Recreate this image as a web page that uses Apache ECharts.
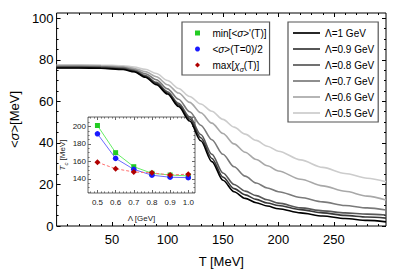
<!DOCTYPE html>
<html><head><meta charset="utf-8">
<script src="https://cdn.jsdelivr.net/npm/echarts@6/dist/echarts.min.js"></script>
<style>html,body{margin:0;padding:0;background:#fff}#c{width:395px;height:279px}</style>
</head><body><div id="c"></div>
<script>
const FONT = '"Liberation Sans", Arial, Helvetica, sans-serif';

// ---- main plot data: <sigma>(T) for several cutoffs Lambda ----
const T = [0, 20, 40, 60, 70, 80, 90, 100, 110, 120, 130, 140, 150, 160, 170, 180, 190, 200, 220, 240, 260, 280, 297];
const sigL10 = [76.0, 76.0, 75.9, 75.3, 74.2, 71.6, 68.0, 63.5, 57.5, 50.5, 41.0, 31.0, 22.0, 16.5, 13.3, 11.2, 9.6, 8.3, 6.3, 4.8, 3.6, 2.7, 2.0];
const sigL09 = [76.2, 76.2, 76.1, 75.5, 74.4, 71.9, 68.5, 64.0, 58.2, 51.5, 42.5, 32.5, 23.5, 18.0, 15.0, 12.8, 11.1, 9.9, 7.9, 6.3, 5.1, 4.3, 3.8];
const sigL08 = [76.5, 76.5, 76.4, 75.8, 74.7, 72.4, 69.1, 64.6, 59.0, 52.5, 44.0, 34.5, 25.5, 20.0, 16.8, 14.6, 12.6, 11.0, 8.7, 7.3, 6.3, 5.7, 5.3];
const sigL07 = [76.8, 76.8, 76.7, 76.2, 75.2, 73.3, 70.4, 66.0, 61.0, 55.0, 48.5, 41.5, 34.5, 28.5, 24.0, 20.7, 18.3, 16.5, 13.7, 11.6, 9.9, 8.7, 7.7];
const sigL06 = [77.2, 77.2, 77.1, 76.6, 75.8, 74.3, 71.8, 68.0, 64.0, 59.5, 54.5, 49.5, 44.5, 39.5, 35.5, 32.0, 29.0, 26.5, 22.5, 19.3, 16.7, 14.4, 12.5];
const sigL05 = [77.6, 77.6, 77.5, 77.1, 76.5, 75.4, 73.4, 70.0, 66.2, 62.3, 58.7, 55.2, 51.3, 47.6, 44.2, 41.2, 38.4, 36.0, 31.8, 28.2, 25.3, 23.0, 21.3];
const mainNames = ['Λ=1 GeV', 'Λ=0.9 GeV', 'Λ=0.8 GeV', 'Λ=0.7 GeV', 'Λ=0.6 GeV', 'Λ=0.5 GeV'];

// ---- inset data: Tc vs Lambda ----
const lam = [0.5, 0.6, 0.7, 0.8, 0.9, 1.0];
const tcMinDeriv = [201, 170, 154, 146.5, 144.5, 143.5];
const tcHalf = [191.5, 163.5, 151, 144.3, 142, 141.5];
const tcMaxChi = [159, 151.7, 148, 147, 144.5, 145.5];

// ---- tick labels ----
const xMajor = [50, 100, 150, 200, 250];
const yMajor = [0, 20, 40, 60, 80, 100];
const insXMajor = [0.5, 0.6, 0.7, 0.8, 0.9, 1.0];
const insYMajor = [140, 160, 180, 200];

function minors(from, to, step, majors) {
  const out = [];
  for (let v = from; v <= to + 1e-9; v += step) {
    const r = Math.round(v * 1000) / 1000;
    if (!majors.some(m => Math.abs(m - r) < 1e-6)) out.push(r);
  }
  return out;
}
const xMinor = minors(10, 290, 10, xMajor);
const yMinor = minors(5, 100, 5, yMajor);
const insXMinor = minors(0.46, 1.02, 0.02, insXMajor);
const insYMinor = minors(125, 210, 5, insYMajor);

function ax(o) {
  return Object.assign({
    type: 'value',
    axisLine: { show: false, onZero: false },
    splitLine: { show: false },
    axisLabel: { show: false },
    axisTick: { show: false }
  }, o);
}
function ticks(vals, len, color) {
  return { show: true, inside: true, length: len, customValues: vals, lineStyle: { color: color, width: 1 } };
}

const MX = { min: 0, max: 297 };
const MY = { min: 0, max: 102.5 };
const IX = { min: 0.448, max: 1.037 };
const IY = { min: 124, max: 210.7 };
const IC = '#666';

const xAxes = [
  ax(Object.assign({ gridIndex: 0, position: 'bottom', axisTick: ticks(xMajor, 4, '#000'),
    axisLabel: { show: true, customValues: xMajor, margin: 7, fontSize: 13, color: '#000', fontFamily: FONT },
    name: 'T [MeV]', nameLocation: 'middle', nameGap: 29,
    nameTextStyle: { fontSize: 13, color: '#000', fontFamily: FONT } }, MX)),
  ax(Object.assign({ gridIndex: 0, position: 'bottom', axisTick: ticks(xMinor, 2, '#000') }, MX)),
  ax(Object.assign({ gridIndex: 0, position: 'top', axisTick: ticks(xMajor, 4, '#000') }, MX)),
  ax(Object.assign({ gridIndex: 0, position: 'top', axisTick: ticks(xMinor, 2, '#000') }, MX)),
  ax(Object.assign({ gridIndex: 1, position: 'bottom', axisTick: ticks(insXMajor, 3, IC),
    axisLabel: { show: true, customValues: insXMajor, margin: 5, fontSize: 8, color: '#222', fontFamily: FONT,
      formatter: v => v.toFixed(1) },
    name: 'Λ [GeV]', nameLocation: 'middle', nameGap: 21,
    nameTextStyle: { fontSize: 8, color: '#222', fontFamily: FONT } }, IX)),
  ax(Object.assign({ gridIndex: 1, position: 'bottom', axisTick: ticks(insXMinor, 1.5, IC) }, IX)),
  ax(Object.assign({ gridIndex: 1, position: 'top', axisTick: ticks(insXMajor, 3, IC) }, IX)),
  ax(Object.assign({ gridIndex: 1, position: 'top', axisTick: ticks(insXMinor, 1.5, IC) }, IX))
];

const yAxes = [
  ax(Object.assign({ gridIndex: 0, position: 'left', axisTick: ticks(yMajor, 4, '#000'),
    axisLabel: { show: true, customValues: yMajor, margin: 3, fontSize: 13, color: '#000', fontFamily: FONT },
    name: '{n|<}{i|σ}{n|>[MeV]}', nameLocation: 'middle', nameGap: 27,
    nameTextStyle: { fontSize: 13, color: '#000', fontFamily: FONT,
      rich: { n: { fontSize: 13, fontFamily: FONT, color: '#000' },
              i: { fontSize: 13, fontFamily: FONT, color: '#000', fontStyle: 'italic' } } } }, MY)),
  ax(Object.assign({ gridIndex: 0, position: 'left', axisTick: ticks(yMinor, 2, '#000') }, MY)),
  ax(Object.assign({ gridIndex: 0, position: 'right', axisTick: ticks(yMajor, 4, '#000') }, MY)),
  ax(Object.assign({ gridIndex: 0, position: 'right', axisTick: ticks(yMinor, 2, '#000') }, MY)),
  ax(Object.assign({ gridIndex: 1, position: 'left', axisTick: ticks(insYMajor, 3, IC),
    axisLabel: { show: true, customValues: insYMajor, margin: 2, fontSize: 8, color: '#222', fontFamily: FONT },
    name: '{i|T}{s|c}{n| [MeV]}', nameLocation: 'middle', nameGap: 14,
    nameTextStyle: { fontSize: 8, color: '#222', fontFamily: FONT,
      rich: { n: { fontSize: 8, fontFamily: FONT, color: '#222', lineHeight: 12 },
              i: { fontSize: 8, fontFamily: FONT, color: '#222', fontStyle: 'italic', lineHeight: 12 },
              s: { fontSize: 6, fontFamily: FONT, color: '#222', fontStyle: 'italic', lineHeight: 9, verticalAlign: 'bottom' } } } }, IY)),
  ax(Object.assign({ gridIndex: 1, position: 'left', axisTick: ticks(insYMinor, 1.5, IC) }, IY)),
  ax(Object.assign({ gridIndex: 1, position: 'right', axisTick: ticks(insYMajor, 3, IC) }, IY)),
  ax(Object.assign({ gridIndex: 1, position: 'right', axisTick: ticks(insYMinor, 1.5, IC) }, IY))
];

const mainData = [sigL10, sigL09, sigL08, sigL07, sigL06, sigL05];
const mainColors = ['#000000', '#383838', '#585858', '#7a7a7a', '#a8a8a8', '#cccccc'];
const series = [];
// draw lightest first so darker lines sit on top
for (let k = mainData.length - 1; k >= 0; k--) {
  series.push({
    name: mainNames[k], type: 'line', xAxisIndex: 0, yAxisIndex: 0,
    data: T.map((t, i) => [t, mainData[k][i]]),
    symbol: 'none', showSymbol: false, smooth: 0.3, smoothMonotone: 'x',
    lineStyle: { color: mainColors[k], width: 1.6 }, itemStyle: { color: mainColors[k] },
    silent: true, z: 2
  });
}
series.push({
  name: 'min', type: 'line', xAxisIndex: 4, yAxisIndex: 4,
  data: lam.map((l, i) => [l, tcMinDeriv[i]]),
  symbol: 'rect', symbolSize: 5,
  lineStyle: { color: '#66ee66', width: 1 }, itemStyle: { color: '#22cc22' }, z: 5
});
series.push({
  name: 'half', type: 'line', xAxisIndex: 4, yAxisIndex: 4,
  data: lam.map((l, i) => [l, tcHalf[i]]),
  symbol: 'circle', symbolSize: 5.5,
  lineStyle: { color: '#6a6aff', width: 1 }, itemStyle: { color: '#1a1aff' }, z: 5
});
series.push({
  name: 'max', type: 'line', xAxisIndex: 4, yAxisIndex: 4,
  data: lam.map((l, i) => [l, tcMaxChi[i]]),
  symbol: 'diamond', symbolSize: 6,
  lineStyle: { color: '#ff7070', width: 1, type: [3, 2] }, itemStyle: { color: '#b00000' }, z: 6
});

const legendRich = {
  n: { fontSize: 10, fontFamily: FONT, color: '#000', lineHeight: 16 },
  i: { fontSize: 10, fontFamily: FONT, color: '#000', fontStyle: 'italic', lineHeight: 16 },
  s: { fontSize: 7, fontFamily: FONT, color: '#000', fontStyle: 'italic', lineHeight: 12, verticalAlign: 'bottom' }
};
const legend2Labels = {
  'min': "{n|min[<}{i|σ}{n|>'(T)]}",
  'half': '{n|<}{i|σ}{n|>(T=0)/2}',
  'max': '{n|max[}{i|χ}{s|σ}{n|(T)]}'
};
const LINE_ICON = 'path://M0,0L27,0L27,1.7L0,1.7Z';

const option = {
  animation: false,
  backgroundColor: '#fff',
  grid: [
    { left: 56, right: 9, top: 13, bottom: 53, show: true, borderColor: '#000', borderWidth: 1, backgroundColor: 'transparent' },
    { left: 88, top: 117, width: 107, height: 76, show: true, borderColor: IC, borderWidth: 1, backgroundColor: 'transparent' }
  ],
  xAxis: xAxes,
  yAxis: yAxes,
  legend: [
    {
      data: mainNames.map(n => ({ name: n, icon: LINE_ICON })),
      left: 288, top: 22, orient: 'vertical', symbolKeepAspect: true,
      itemWidth: 27, itemHeight: 10, itemGap: 0, padding: [3, 4, 1, 5],
      borderColor: '#555', borderWidth: 1.2, selectedMode: false,
      textStyle: { fontSize: 10, fontFamily: FONT, color: '#000', lineHeight: 16 }
    },
    {
      data: [
        { name: 'min', icon: 'path://M0,0L1,0L1,1L0,1Z' },
        { name: 'half', icon: 'circle' },
        { name: 'max', icon: 'path://M0.5,0L1,0.5L0.5,1L0,0.5Z' }
      ],
      left: 182, top: 22, orient: 'vertical', symbolKeepAspect: true,
      itemWidth: 20, itemHeight: 5, itemGap: 0, padding: [3, 3, 2, 13],
      borderColor: '#555', borderWidth: 1.2, selectedMode: false,
      formatter: name => legend2Labels[name],
      textStyle: { fontSize: 10, fontFamily: FONT, color: '#000', lineHeight: 16, rich: legendRich }
    }
  ],
  series: series
};
const chart = echarts.init(document.getElementById('c'), null, { renderer: 'svg' });
chart.setOption(option);
</script>
</body></html>
